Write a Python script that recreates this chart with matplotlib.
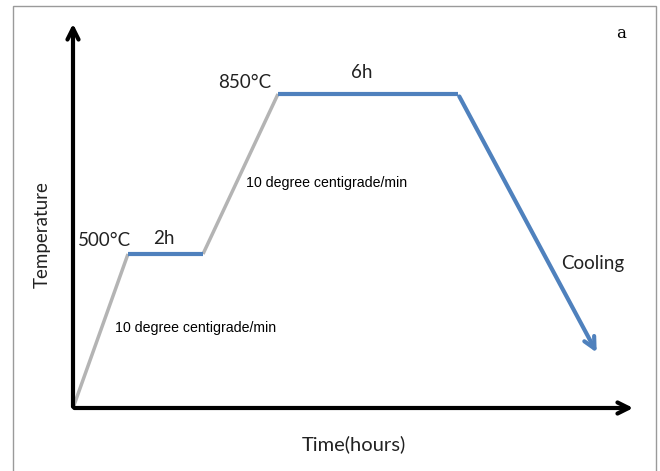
import matplotlib.pyplot as plt
from matplotlib.patches import Rectangle

# schematic heat-treatment profile (arbitrary units: x = time, y = temperature)
ramp1_t = [0, 55]
ramp1_T = [0, 154]
hold1_t = [55, 130]
hold1_T = [154, 154]
ramp2_t = [130, 205]
ramp2_T = [154, 314]
hold2_t = [205, 385]
hold2_T = [314, 314]
cool_t = [385, 525]
cool_T = [314, 53]

blue = '#4f81bd'
grey = '#b4b4b4'

fig = plt.figure(figsize=(6.6, 4.71), dpi=100)
ax = fig.add_axes([0, 0, 1, 1])
ax.set_xlim(-73, 587)
ax.set_ylim(-63, 408)
ax.axis('off')

# outer frame
ax.add_patch(Rectangle((-60, -80), 643, 482, fill=False, edgecolor='#9a9a9a', lw=1.0))

# axes arrows
ax.annotate('', xy=(0, 387), xytext=(0, -1.5),
            arrowprops=dict(arrowstyle='->', lw=3, color='black', mutation_scale=20))
ax.annotate('', xy=(563, 0), xytext=(-1.5, 0),
            arrowprops=dict(arrowstyle='->', lw=3, color='black', mutation_scale=20))

# profile
ax.plot(ramp1_t, ramp1_T, color=grey, lw=2.5, solid_capstyle='butt')
ax.plot(ramp2_t, ramp2_T, color=grey, lw=2.5, solid_capstyle='butt')
ax.plot(hold1_t, hold1_T, color=blue, lw=3, solid_capstyle='butt')
ax.plot(hold2_t, hold2_T, color=blue, lw=3, solid_capstyle='butt')
ax.annotate('', xy=(cool_t[1], cool_T[1]), xytext=(cool_t[0], cool_T[0]),
            arrowprops=dict(arrowstyle='->', lw=3, color=blue, mutation_scale=20))

lab = dict(family=['Lato', 'DejaVu Sans'], fontsize=13.5, color='#222222')
ax.text(31, 168, '500°C', ha='center', va='center', **lab)
ax.text(91, 170, '2h', ha='center', va='center', **lab)
ax.text(172, 325, '850°C', ha='center', va='center', **lab)
ax.text(289, 335, '6h', ha='center', va='center', **lab)
ax.text(520, 144, 'Cooling', ha='center', va='center', **lab)
ax.text(-31, 173, 'Temperature', rotation=90, ha='center', va='center', **lab)
ax.text(281, -36, 'Time(hours)', ha='center', va='center',
        family=['Lato', 'DejaVu Sans'], fontsize=14.5, color='#222222')

rate = dict(family=['Liberation Sans', 'DejaVu Sans'], fontsize=10.2, color='black')
ax.text(42, 80, '10 degree centigrade/min', ha='left', va='center', **rate)
ax.text(173, 225, '10 degree centigrade/min', ha='left', va='center', **rate)

ax.text(548, 374, 'a', family=['DejaVu Serif'], fontsize=12, ha='center', va='center')

fig.savefig('out.png', dpi=100)
